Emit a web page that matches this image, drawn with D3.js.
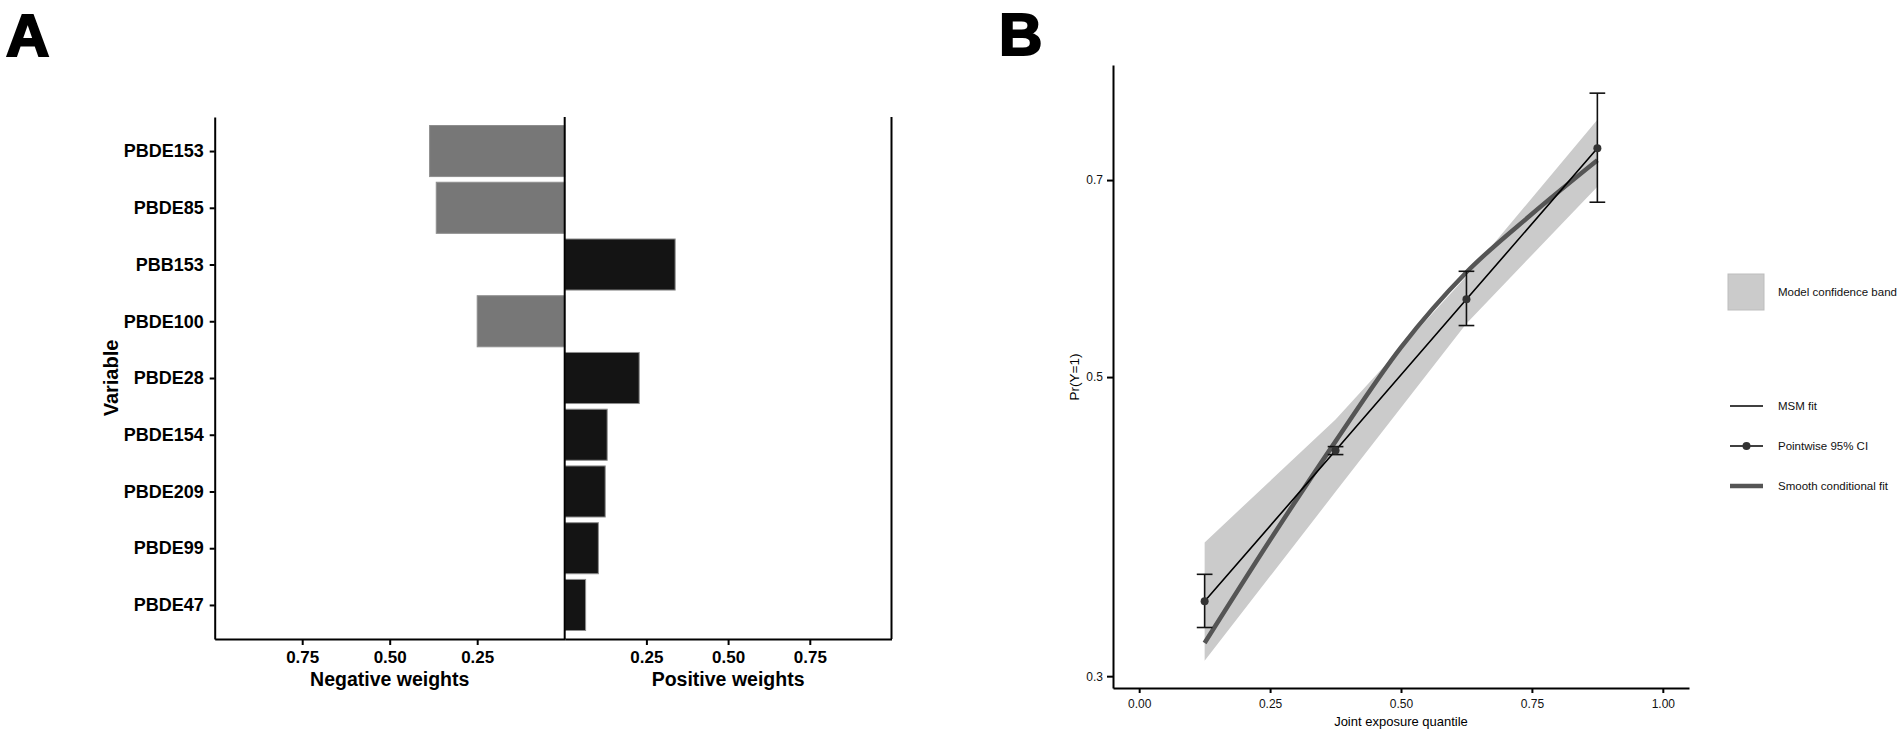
<!DOCTYPE html>
<html>
<head>
<meta charset="utf-8">
<script src="https://cdn.jsdelivr.net/npm/d3@7"></script>
<style>
  body { margin: 0; background: #fff; }
  svg { display: block; font-family: "Liberation Sans", Arial, sans-serif; }
</style>
</head>
<body>
<script>
// ---- panel A data: qgcomp weights ----
var variables = ["PBDE153", "PBDE85", "PBB153", "PBDE100", "PBDE28", "PBDE154", "PBDE209", "PBDE99", "PBDE47"];
var weights = [-0.386, -0.367, 0.338, -0.250, 0.228, 0.130, 0.124, 0.103, 0.064];
var weightTicks = [0.25, 0.5, 0.75];

// ---- panel B data: joint exposure response ----
var quantiles = [0.125, 0.375, 0.625, 0.875];
var msmFit = [0.341, 0.441, 0.571, 0.739];
var ciLower = [0.326, 0.438, 0.546, 0.674];
var ciUpper = [0.357, 0.444, 0.599, 0.812];
var bandLower = [0.308, 0.411, 0.548, 0.692];
var bandUpper = [0.377, 0.465, 0.594, 0.776];
var smoothX = [0.125, 0.25, 0.375, 0.5, 0.625, 0.75, 0.875];
var smoothY = [0.3175, 0.3785, 0.448, 0.526, 0.598, 0.6605, 0.724];
var yTicksB = [0.3, 0.5, 0.7];
var xTicksB = [0, 0.25, 0.5, 0.75, 1];
var legendLabels = ["Model confidence band", "MSM fit", "Pointwise 95% CI", "Smooth conditional fit"];

var w = 1902, h = 734;

var svg = d3.select("body")
            .append("svg")
            .attr("width", w)
            .attr("height", h);

// panel letters (slightly heavy, like the original)
[["A", 6, 56], ["B", 999, 55]].forEach(function(p) {
    svg.append("text").attr("x", p[1]).attr("y", p[2])
        .style("font-size", "60px").style("font-weight", "bold")
        .style("stroke", "#000").style("stroke-width", 2.2)
        .text(p[0]);
});

// ================= panel A =================
var yA = d3.scalePoint().domain(variables).range([117, 639]).padding(0.6);
var xNeg = d3.scaleLinear().domain([0, 1]).range([564.7, 214.7]);
var xPos = d3.scaleLinear().domain([0, 1]).range([564.7, 891.5]);
var barH = yA.step() * 0.9;

var gA = svg.append("g");

gA.selectAll("rect.bar")
    .data(variables)
    .enter()
    .append("rect")
    .attr("class", "bar")
    .attr("x", function(d, i) { return weights[i] < 0 ? xNeg(-weights[i]) : xPos(0); })
    .attr("width", function(d, i) { return weights[i] < 0 ? xNeg(0) - xNeg(-weights[i]) : xPos(weights[i]) - xPos(0); })
    .attr("y", function(d) { return yA(d) - barH / 2; })
    .attr("height", barH)
    .style("fill", function(d, i) { return weights[i] < 0 ? "#777777" : "#141414"; })
    .style("stroke", "#8e8e8e")
    .style("stroke-width", 1);

var axL = gA.append("g").attr("transform", "translate(" + xNeg(1) + ",0)")
    .call(d3.axisLeft(yA).tickSize(5).tickPadding(6).tickSizeOuter(0));
axL.selectAll("text").style("font-size", "18px").style("font-weight", "bold").attr("fill", "#000");

var axNeg = gA.append("g").attr("transform", "translate(0," + yA.range()[1] + ")")
    .call(d3.axisBottom(xNeg).tickValues(weightTicks).tickFormat(d3.format(".2f")).tickSize(6).tickPadding(6).tickSizeOuter(0));
var axPos = gA.append("g").attr("transform", "translate(0," + yA.range()[1] + ")")
    .call(d3.axisBottom(xPos).tickValues(weightTicks).tickFormat(d3.format(".2f")).tickSize(6).tickPadding(6).tickSizeOuter(0));
[axNeg, axPos].forEach(function(a) {
    a.selectAll("text").style("font-size", "17px").style("font-weight", "bold").attr("fill", "#000");
});
[axL, axNeg, axPos].forEach(function(a) {
    a.selectAll("path, line").attr("stroke", "#000").attr("stroke-width", 2);
});

// zero line and right border
[xPos(0), xPos(1)].forEach(function(x) {
    gA.append("line").attr("x1", x).attr("x2", x)
        .attr("y1", yA.range()[0]).attr("y2", yA.range()[1])
        .attr("stroke", "#000").attr("stroke-width", 2);
});

gA.append("text").attr("x", xNeg(0.5)).attr("y", 686).attr("text-anchor", "middle")
    .style("font-size", "19.5px").style("font-weight", "bold").text("Negative weights");
gA.append("text").attr("x", xPos(0.5)).attr("y", 686).attr("text-anchor", "middle")
    .style("font-size", "19.5px").style("font-weight", "bold").text("Positive weights");
gA.append("text").attr("transform", "translate(118,378) rotate(-90)").attr("text-anchor", "middle")
    .style("font-size", "20px").style("font-weight", "bold").text("Variable");

// ================= panel B =================
var xB = d3.scaleLinear().domain([-0.05, 1.05]).range([1113, 1689]);
var yB = d3.scaleLog().domain([0.294, 0.852]).range([688, 65]);

var gB = svg.append("g");

var band = d3.area()
    .x(function(d, i) { return xB(quantiles[i]); })
    .y0(function(d, i) { return yB(bandLower[i]); })
    .y1(function(d, i) { return yB(bandUpper[i]); });
gB.append("path").datum(quantiles).attr("d", band).style("fill", "#cbcbcb");

var smoothLine = d3.line()
    .x(function(d, i) { return xB(smoothX[i]); })
    .y(function(d, i) { return yB(smoothY[i]); })
    .curve(d3.curveMonotoneX);
gB.append("path").datum(smoothX).attr("d", smoothLine)
    .style("fill", "none").style("stroke", "#555555").style("stroke-width", 4.5);

var msmLine = d3.line()
    .x(function(d, i) { return xB(quantiles[i]); })
    .y(function(d, i) { return yB(msmFit[i]); });
gB.append("path").datum(quantiles).attr("d", msmLine)
    .style("fill", "none").style("stroke", "#000").style("stroke-width", 1.6);

// pointwise CIs
var capW = 0.015;
var ci = gB.selectAll("g.ci").data(quantiles).enter().append("g").attr("class", "ci");
ci.append("line")
    .attr("x1", function(d) { return xB(d); }).attr("x2", function(d) { return xB(d); })
    .attr("y1", function(d, i) { return yB(ciLower[i]); }).attr("y2", function(d, i) { return yB(ciUpper[i]); });
ci.append("line")
    .attr("x1", function(d) { return xB(d - capW); }).attr("x2", function(d) { return xB(d + capW); })
    .attr("y1", function(d, i) { return yB(ciLower[i]); }).attr("y2", function(d, i) { return yB(ciLower[i]); });
ci.append("line")
    .attr("x1", function(d) { return xB(d - capW); }).attr("x2", function(d) { return xB(d + capW); })
    .attr("y1", function(d, i) { return yB(ciUpper[i]); }).attr("y2", function(d, i) { return yB(ciUpper[i]); });
ci.selectAll("line").style("stroke", "#111").style("stroke-width", 1.6);
ci.append("circle")
    .attr("cx", function(d) { return xB(d); })
    .attr("cy", function(d, i) { return yB(msmFit[i]); })
    .attr("r", 4)
    .style("fill", "#333");

var axBY = gB.append("g").attr("transform", "translate(" + xB.range()[0] + ",0)")
    .call(d3.axisLeft(yB).tickValues(yTicksB).tickFormat(d3.format(".1f")).tickSize(6).tickPadding(4).tickSizeOuter(0));
var axBX = gB.append("g").attr("transform", "translate(0," + yB.range()[0] + ")")
    .call(d3.axisBottom(xB).tickValues(xTicksB).tickFormat(d3.format(".2f")).tickSize(5).tickPadding(6).tickSizeOuter(0));
[axBY, axBX].forEach(function(a) {
    a.selectAll("path, line").attr("stroke", "#000").attr("stroke-width", 2);
    a.selectAll("text").style("font-size", "12px").attr("fill", "#111");
});

gB.append("text").attr("transform", "translate(1074,377) rotate(-90)").attr("text-anchor", "middle")
    .attr("dy", "0.35em").style("font-size", "13.5px").text("Pr(Y=1)");
gB.append("text").attr("x", xB(0.5)).attr("y", 726).attr("text-anchor", "middle")
    .style("font-size", "13px").text("Joint exposure quantile");

// legend
var leg = svg.append("g");
var legY = [292, 406, 446, 486];
leg.append("rect").attr("x", 1728).attr("y", legY[0] - 18).attr("width", 36).attr("height", 36)
    .style("fill", "#cbcbcb").style("stroke", "#bdbdbd");
leg.append("line").attr("x1", 1730).attr("x2", 1763).attr("y1", legY[1]).attr("y2", legY[1])
    .style("stroke", "#000").style("stroke-width", 1.6);
leg.append("line").attr("x1", 1730).attr("x2", 1763).attr("y1", legY[2]).attr("y2", legY[2])
    .style("stroke", "#000").style("stroke-width", 1.6);
leg.append("circle").attr("cx", 1746.5).attr("cy", legY[2]).attr("r", 4).style("fill", "#333");
leg.append("line").attr("x1", 1730).attr("x2", 1763).attr("y1", legY[3]).attr("y2", legY[3])
    .style("stroke", "#555555").style("stroke-width", 4.5);
leg.selectAll("text.lab").data(legendLabels).enter().append("text").attr("class", "lab")
    .attr("x", 1778).attr("y", function(d, i) { return legY[i]; }).attr("dy", "0.35em")
    .style("font-size", "11.5px").attr("fill", "#111").text(function(d) { return d; });
</script>
</body>
</html>
